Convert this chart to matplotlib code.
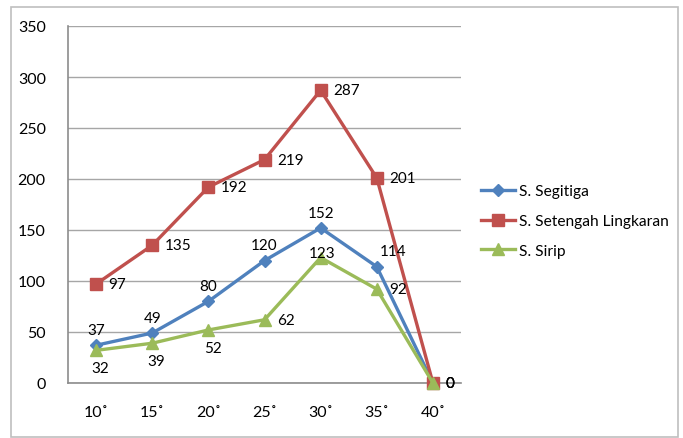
import matplotlib.pyplot as plt
from matplotlib.patches import Rectangle

# Data
angles = ["10˚", "15˚", "20˚", "25˚", "30˚", "35˚", "40˚"]
segitiga = [37, 49, 80, 120, 152, 114, 0]
setengah = [97, 135, 192, 219, 287, 201, 0]
sirip = [32, 39, 52, 62, 123, 92, 0]

# label placement per point (Excel-like)
pos_segitiga = ["above", "above", "above", "above", "above", "aboveright", "right"]
pos_setengah = ["right"] * 7
pos_sirip = ["below", "below", "below", "right", "over", "right", "right"]

plt.rcParams['font.family'] = ['Lato', 'DejaVu Sans']

fig = plt.figure(figsize=(6.83, 4.39), dpi=100)
W, H = 683, 439
ax = fig.add_axes([68 / W, (H - 384) / H, (461 - 68) / W, (384 - 27) / H])

# outer chart frame
fig.patches.append(Rectangle((11 / W, 1 / H), (678 - 11) / W, (430) / H,
                             transform=fig.transFigure, fill=False,
                             edgecolor="#bfbfbf", linewidth=1.2))

x = list(range(len(angles)))
series = [
    ("S. Segitiga", segitiga, "#4F81BD", "D", 6, pos_segitiga),
    ("S. Setengah Lingkaran", setengah, "#C0504D", "s", 8, pos_setengah),
    ("S. Sirip", sirip, "#9BBB59", "^", 8, pos_sirip),
]

offsets = {
    "above": ((0, 6), "center", "bottom"),
    "below": ((3, -8), "center", "top"),
    "right": ((9, 0), "left", "center"),
    "aboveright": ((2, 6), "left", "bottom"),
    "over": ((1, 3), "center", "center"),
}

for name, vals, col, mk, ms, poss in series:
    ax.plot(x, vals, color=col, marker=mk, markersize=ms, linewidth=2.4,
            label=name, clip_on=False, zorder=3)
    for xi, v, p in zip(x, vals, poss):
        off, ha, va = offsets[p]
        ax.annotate(str(v), (xi, v), xytext=off, textcoords="offset points",
                    ha=ha, va=va, fontsize=11, color="black", zorder=4)

ax.set_xlim(-0.5, 6.5)
ax.set_ylim(0, 350)
ax.set_yticks(range(0, 351, 50))
ax.set_xticks(x)
ax.set_xticklabels(angles)
ax.tick_params(axis="y", length=0, pad=16, labelsize=11.5)
ax.tick_params(axis="x", length=0, pad=16, labelsize=11.5)
ax.grid(axis="y", color="#a6a6a6", linewidth=1)
ax.set_axisbelow(True)
for s in ["top", "right"]:
    ax.spines[s].set_visible(False)
for s in ["left", "bottom"]:
    ax.spines[s].set_color("#8c8c8c")
    ax.spines[s].set_linewidth(1.2)

fig.legend(loc="center left", bbox_to_anchor=(475 / W, 1 - 222 / H),
           frameon=False, fontsize=11.2, handlelength=2.2, labelspacing=1.0,
           handletextpad=0.2, borderaxespad=0)

fig.savefig("out.png", dpi=100)
